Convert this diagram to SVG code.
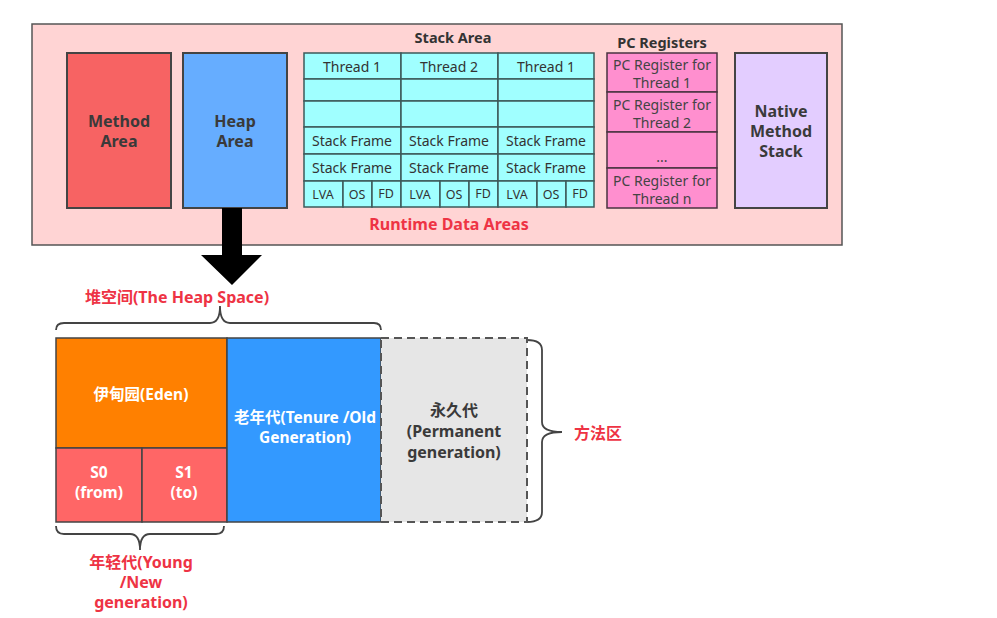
<svg xmlns="http://www.w3.org/2000/svg" width="997" height="618" viewBox="0 0 997 618">
<style>
text{font-family:"Noto Sans","Noto Sans CJK SC",sans-serif;text-anchor:middle;dominant-baseline:central}
.b{font-weight:bold}
.box{stroke:#444;stroke-width:2}
.cell{fill:#a0ffff;stroke:#3c5a5a;stroke-width:1.5}
.ct{font-size:14px;fill:#333}
.ct2{font-size:12.5px;fill:#333}
.pc{fill:#ff8fcf;stroke:#4a3340;stroke-width:1.5}
.pt{font-size:14px;fill:#444}
.t{font-size:16px;fill:#3a3a3a;font-weight:bold}
.w{font-size:15.5px;fill:#fff;font-weight:bold}
.r{fill:#ee3344;font-weight:bold;font-size:16px}
.brace{fill:none;stroke:#444;stroke-width:1.8}
</style>
<rect width="997" height="618" fill="#fff"/>
<g id="runtime">
<rect x="32" y="24" width="810" height="221" fill="#ffd4d4" stroke="#555" stroke-width="1.5"/>
<text x="449" y="224" class="r">Runtime Data Areas</text>
</g>
<g id="method-area">
<rect x="67" y="53" width="104" height="155" fill="#f76363" class="box"/>
<text x="119" y="121" class="t">Method</text>
<text x="119" y="141" class="t">Area</text>
</g>
<g id="heap-area">
<rect x="183" y="53" width="104" height="155" fill="#66adff" class="box"/>
<text x="235" y="121" class="t">Heap</text>
<text x="235" y="141" class="t">Area</text>
</g>
<g id="stack-area">
<text x="453" y="37" class="b" font-size="14.5" fill="#333">Stack Area</text>
<g id="thread1">
<rect x="304" y="53" width="97" height="26" class="cell"/><text x="352" y="66" class="ct">Thread 1</text>
<rect x="304" y="79" width="97" height="22" class="cell"/>
<rect x="304" y="101" width="97" height="26" class="cell"/>
<rect x="304" y="127" width="97" height="27" class="cell"/><text x="352" y="140" class="ct">Stack Frame</text>
<rect x="304" y="154" width="97" height="27" class="cell"/><text x="352" y="167" class="ct">Stack Frame</text>
<rect x="304" y="181" width="39" height="26" class="cell"/><text x="323" y="194" class="ct2">LVA</text>
<rect x="343" y="181" width="29" height="26" class="cell"/><text x="357" y="194" class="ct2">OS</text>
<rect x="372" y="181" width="29" height="26" class="cell"/><text x="386" y="193" class="ct2">FD</text>
</g>
<g id="thread2">
<rect x="401" y="53" width="97" height="26" class="cell"/><text x="449" y="66" class="ct">Thread 2</text>
<rect x="401" y="79" width="97" height="22" class="cell"/>
<rect x="401" y="101" width="97" height="26" class="cell"/>
<rect x="401" y="127" width="97" height="27" class="cell"/><text x="449" y="140" class="ct">Stack Frame</text>
<rect x="401" y="154" width="97" height="27" class="cell"/><text x="449" y="167" class="ct">Stack Frame</text>
<rect x="401" y="181" width="39" height="26" class="cell"/><text x="420" y="194" class="ct2">LVA</text>
<rect x="440" y="181" width="29" height="26" class="cell"/><text x="454" y="194" class="ct2">OS</text>
<rect x="469" y="181" width="29" height="26" class="cell"/><text x="483" y="193" class="ct2">FD</text>
</g>
<g id="thread3">
<rect x="498" y="53" width="96" height="26" class="cell"/><text x="546" y="66" class="ct">Thread 1</text>
<rect x="498" y="79" width="96" height="22" class="cell"/>
<rect x="498" y="101" width="96" height="26" class="cell"/>
<rect x="498" y="127" width="96" height="27" class="cell"/><text x="546" y="140" class="ct">Stack Frame</text>
<rect x="498" y="154" width="96" height="27" class="cell"/><text x="546" y="167" class="ct">Stack Frame</text>
<rect x="498" y="181" width="39" height="26" class="cell"/><text x="517" y="194" class="ct2">LVA</text>
<rect x="537" y="181" width="29" height="26" class="cell"/><text x="551" y="194" class="ct2">OS</text>
<rect x="566" y="181" width="28" height="26" class="cell"/><text x="580" y="193" class="ct2">FD</text>
</g>
</g>
<g id="pc-registers">
<text x="662" y="42" class="b" font-size="14.5" fill="#333">PC Registers</text>
<rect x="607" y="53" width="110" height="39" class="pc"/>
<text x="662" y="64" class="pt">PC Register for</text><text x="662" y="82" class="pt">Thread 1</text>
<rect x="607" y="92" width="110" height="40" class="pc"/>
<text x="662" y="104" class="pt">PC Register for</text><text x="662" y="122" class="pt">Thread 2</text>
<rect x="607" y="132" width="110" height="36" class="pc"/>
<text x="662" y="156" class="pt" font-size="11">...</text>
<rect x="607" y="168" width="110" height="40" class="pc"/>
<text x="662" y="180" class="pt">PC Register for</text><text x="662" y="198" class="pt">Thread n</text>
</g>
<g id="native-method-stack">
<rect x="735" y="53" width="92" height="155" fill="#e3cdff" class="box"/>
<text x="781" y="111" class="t" font-size="14">Native</text>
<text x="781" y="131" class="t" font-size="14">Method</text>
<text x="781" y="151" class="t" font-size="14">Stack</text>
</g>
<g id="connectors">
<path d="M222 208 H242 V255 H262 L232 285 L201 255 H222 Z" fill="#000"/>
<path class="brace" d="M56 330 Q56 323 64 323 H210 Q220 323 220 306 Q220 323 230 323 H374 Q381 323 381 330"/>
<path class="brace" d="M527 340 Q542 340 542 350 V422 Q542 432 562 432 Q542 432 542 442 V512 Q542 522 527 522"/>
<path class="brace" d="M56 526 Q56 534 64 534 H130 Q140 534 140 550 Q140 534 150 534 H216 Q224 534 224 526"/>
</g>
<g id="heap-title"><text x="177" y="297" class="r">堆空间(The Heap Space)</text></g>
<g id="eden">
<rect x="56" y="338" width="171" height="110" fill="#ff8000" stroke="#444" stroke-width="1.5"/>
<text x="141" y="394" class="w">伊甸园(Eden)</text>
</g>
<g id="s0">
<rect x="56" y="448" width="86" height="74" fill="#ff6666" stroke="#444" stroke-width="1.5"/>
<text x="99" y="472" class="w" font-size="16.5">S0</text><text x="99" y="492" class="w" font-size="16.5">(from)</text>
</g>
<g id="s1">
<rect x="142" y="448" width="85" height="74" fill="#ff6666" stroke="#444" stroke-width="1.5"/>
<text x="184" y="472" class="w" font-size="16.5">S1</text><text x="184" y="492" class="w" font-size="16.5">(to)</text>
</g>
<g id="old">
<rect x="227" y="338" width="154" height="184" fill="#3399ff" stroke="#444" stroke-width="1.5"/>
<text x="305" y="417" class="w" font-size="16">老年代(Tenure /Old</text><text x="305" y="437" class="w" font-size="16">Generation)</text>
</g>
<g id="perm">
<rect x="381" y="338" width="146" height="184" fill="#e6e6e6" stroke="#555" stroke-width="2" stroke-dasharray="8,5"/>
<text x="454" y="410" class="t" font-size="17">永久代</text><text x="454" y="431" class="t" font-size="17">(Permanent</text><text x="454" y="452" class="t" font-size="17">generation)</text>
</g>
<g id="method-label"><text x="598" y="433" class="r" font-size="15">方法区</text></g>
<g id="young-label">
<text x="141" y="562" class="r">年轻代(Young</text><text x="141" y="582" class="r">/New</text><text x="141" y="602" class="r">generation)</text>
</g>
</svg>
